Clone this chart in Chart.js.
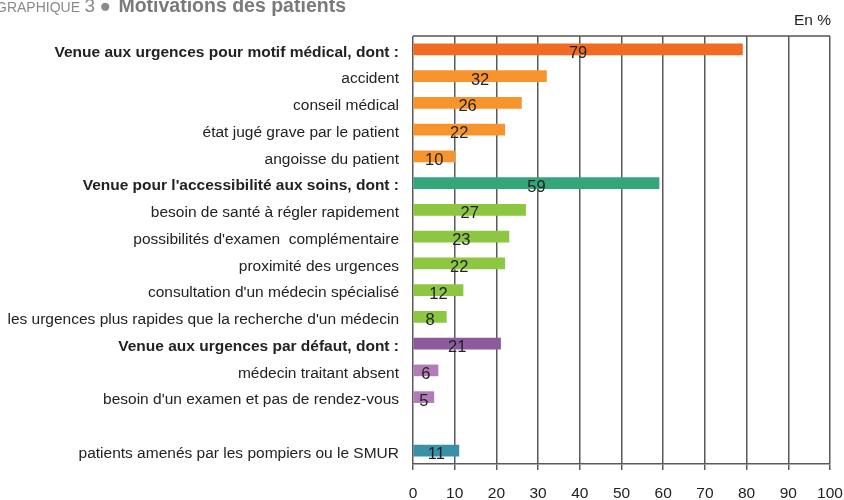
<!DOCTYPE html>
<html>
<head>
<meta charset="utf-8">
<script src="https://cdn.jsdelivr.net/npm/chart.js@4/dist/chart.umd.min.js"></script>
<style>
  html, body { margin: 0; padding: 0; background: #fff; }
  #wrap { position: relative; width: 844px; height: 500px; overflow: hidden; font-family: "Liberation Sans", Arial, sans-serif; }
  #title { position: absolute; left: -4px; top: -6px; color: #8a8a8a; white-space: nowrap; }
  #title .g { font-size: 14px; }
  #title .n { font-size: 19px; }
  #title .m { font-size: 19.5px; font-weight: bold; color: #7a7a7a; margin-left: 3px; }
  #unit { position: absolute; right: 13px; top: 11px; font-size: 15.5px; color: #222; }
</style>
</head>
<body>
<div id="wrap">
  <canvas id="barChart" width="844" height="500"></canvas>
  <div id="title"><span class="g">GRAPHIQUE</span> <span class="n">3</span> <span class="n">&#9679;</span> <span class="m">Motivations des patients</span></div>
  <div id="unit">En %</div>
</div>
<script>
var FONT = '"Liberation Sans", Arial, sans-serif';
// categories (empty string = blank spacer row)
var categories = [
  "Venue aux urgences pour motif médical, dont :",
  "accident",
  "conseil médical",
  "état jugé grave par le patient",
  "angoisse du patient",
  "Venue pour l'accessibilité aux soins, dont :",
  "besoin de santé à régler rapidement",
  "possibilités d'examen  complémentaire",
  "proximité des urgences",
  "consultation d'un médecin spécialisé",
  "les urgences plus rapides que la recherche d'un médecin",
  "Venue aux urgences par défaut, dont :",
  "médecin traitant absent",
  "besoin d'un examen et pas de rendez-vous",
  "",
  "patients amenés par les pompiers ou le SMUR"
];
var values = [79, 32, 26, 22, 10, 59, 27, 23, 22, 12, 8, 21, 6, 5, null, 11];
var boldRows = [0, 5, 11];
var barColors = [
  "#f26b22", "#f7952c", "#f7952c", "#f7952c", "#f7952c",
  "#35a57a", "#8dc641", "#8dc641", "#8dc641", "#8dc641", "#8dc641",
  "#8b5c9d", "#b07db7", "#b07db7", "#ffffff", "#3a90a6"
];
var xTicks = [0, 10, 20, 30, 40, 50, 60, 70, 80, 90, 100];

var valueLabels = {
  id: 'valueLabels',
  afterDatasetsDraw: function(chart) {
    var ctx = chart.ctx;
    var meta = chart.getDatasetMeta(0);
    ctx.save();
    ctx.font = '16.5px ' + FONT;
    ctx.fillStyle = '#222';
    ctx.textAlign = 'center';
    ctx.textBaseline = 'middle';
    meta.data.forEach(function(bar, i) {
      if (values[i] === null) return;
      ctx.fillText(String(values[i]), (bar.x + bar.base) / 2, bar.y + 4);
    });
    ctx.restore();
  }
};

var topBorder = {
  id: 'topBorder',
  afterDraw: function(chart) {
    var a = chart.chartArea, ctx = chart.ctx;
    ctx.save();
    ctx.strokeStyle = '#555';
    ctx.lineWidth = 1.5;
    ctx.beginPath();
    ctx.moveTo(a.left, a.top);
    ctx.lineTo(a.right, a.top);
    ctx.stroke();
    ctx.restore();
  }
};

var ctxB = document.getElementById("barChart").getContext('2d');
var myBarChart = new Chart(ctxB, {
  type: 'bar',
  data: {
    labels: categories,
    datasets: [{
      data: values,
      backgroundColor: barColors,
      barThickness: 11
    }]
  },
  plugins: [valueLabels, topBorder],
  options: {
    indexAxis: 'y',
    responsive: false,
    animation: false,
    layout: { padding: { top: 36, right: 0, left: 0, bottom: 0 } },
    plugins: {
      legend: { display: false },
      tooltip: { enabled: false }
    },
    scales: {
      x: {
        min: 0,
        max: 100,
        afterBuildTicks: function(scale) {
          scale.ticks = xTicks.map(function(v) { return { value: v }; });
        },
        afterFit: function(scale) {
          scale.height = 36;
          scale.paddingRight = 14;
        },
        grid: { color: '#5a5a5a', lineWidth: 1.5, tickLength: 6, tickColor: '#5a5a5a' },
        border: { color: '#5a5a5a', width: 1.5 },
        ticks: {
          color: '#222',
          padding: 14,
          maxRotation: 0,
          font: { family: FONT, size: 15.5 }
        }
      },
      y: {
        afterFit: function(scale) { scale.width = 413; },
        grid: { display: false, drawTicks: false },
        border: { display: false },
        ticks: {
          color: '#222',
          padding: 14,
          labelOffset: 3,
          autoSkip: false,
          font: function(c) {
            var b = boldRows.indexOf(c.index) >= 0;
            return { family: FONT, size: 15.5, weight: b ? 'bold' : 'normal' };
          }
        }
      }
    }
  }
});
</script>
</body>
</html>
